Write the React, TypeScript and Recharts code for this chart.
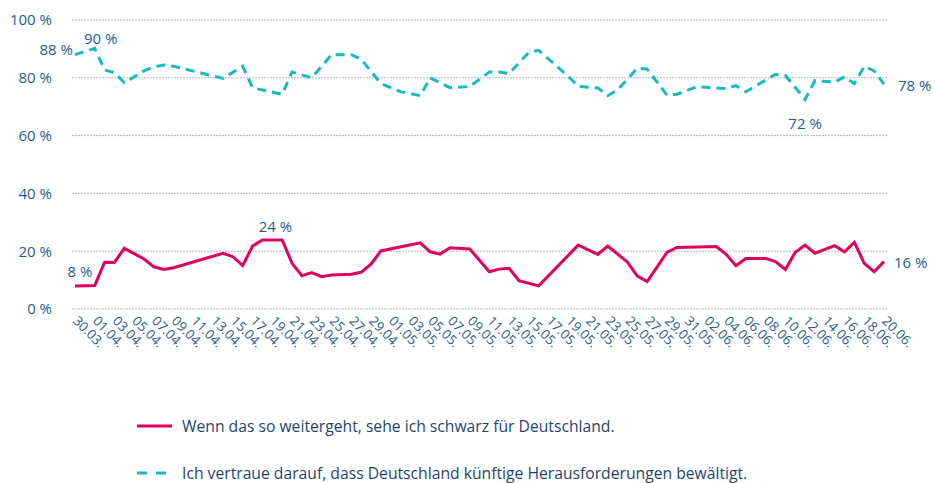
import React from "react";
import {
  LineChart,
  CartesianGrid,
  XAxis,
  YAxis,
  Legend,
  Line,
} from "recharts";

// survey day index (0 = 30.03.) and share in %
const schwarz: [number, number][] = [
  [0, 8], [2, 8.1], [3, 16.2], [4, 16.1], [5, 21], [7, 17.3], [8, 14.6],
  [9, 13.7], [10, 14.3], [15, 19.3], [16, 18.1], [17, 15], [18, 21.8],
  [19, 23.9], [21, 23.9], [22, 15.8], [23, 11.5], [24, 12.6], [25, 11.2],
  [26, 11.8], [28, 12], [29, 12.7], [30, 15.5], [31, 20.1], [35, 22.9],
  [36, 19.8], [37, 19], [38, 21.2], [40, 20.8], [42, 12.9], [43, 13.8],
  [44, 14.1], [45, 9.8], [47, 8], [51, 22.1], [53, 18.9], [54, 21.8],
  [56, 16.2], [57, 11.4], [58, 9.5], [60, 19.6], [61, 21.3], [65, 21.6],
  [66, 18.9], [67, 15], [68, 17.5], [70, 17.5], [71, 16.4], [72, 13.7],
  [73, 19.6], [74, 22.1], [75, 19.3], [77, 21.9], [78, 19.8], [79, 23.1],
  [80, 15.8], [81, 12.9], [82, 16.4],
];

const vertrauen: [number, number][] = [
  [0, 88], [2, 90.2], [3, 82.7], [4, 81.8], [5, 78.3], [7, 82.4], [8, 83.8],
  [9, 84.4], [10, 84], [15, 79.8], [17, 84], [18, 76.5], [21, 74.3],
  [22, 82], [24, 80], [26, 88], [28, 88], [29, 86.5], [31, 78], [33, 75.2],
  [35, 73.8], [36, 80], [38, 76.6], [40, 77], [42, 82], [43, 82],
  [44, 81.5], [46, 88.8], [47, 89.5], [50, 80.5], [51, 77], [53, 76.5],
  [54, 73.8], [55, 75.8], [57, 83.3], [58, 83], [60, 74], [61, 74.3],
  [63, 76.9], [65, 76.5], [66, 76.3], [67, 77.3], [68, 75.2], [71, 81.2],
  [72, 80.8], [74, 72.5], [75, 79], [77, 78.5], [78, 80.3], [79, 78],
  [80, 84], [81, 82.4], [82, 77.8],
];

const yTicks = [0, 20, 40, 60, 80, 100];

const labelsSchwarz = [
  { day: 0, text: "8 %" },
  { day: 19, text: "24 %" },
  { day: 82, text: "16 %" },
];
const labelsVertrauen = [
  { day: 0, text: "88 %" },
  { day: 2, text: "90 %" },
  { day: 74, text: "72 %" },
  { day: 82, text: "78 %" },
];

const legendItems = [
  { key: "schwarz", text: "Wenn das so weitergeht, sehe ich schwarz für Deutschland." },
  { key: "vertrauen", text: "Ich vertraue darauf, dass Deutschland künftige Herausforderungen bewältigt." },
];

const PINK = "#e0005e";
const TEAL = "#15bac3";
const BLUE = "#1f5b94";
const FONT = "'Open Sans', sans-serif";

// 30.03. .. 20.06.
const buildDates = () => {
  const months = [
    { m: 3, len: 31 },
    { m: 4, len: 30 },
    { m: 5, len: 31 },
    { m: 6, len: 30 },
  ];
  const out: string[] = [];
  let mi = 0;
  let d = 30;
  while (out.length < 83) {
    const pad = (n: number) => (n < 10 ? "0" + n : "" + n);
    out.push(pad(d) + "." + pad(months[mi].m) + ".");
    d++;
    if (d > months[mi].len) {
      d = 1;
      mi++;
    }
  }
  return out;
};

const dates = buildDates();

const data = dates.map((date, i) => {
  const s = schwarz.find((p) => p[0] === i);
  const v = vertrauen.find((p) => p[0] === i);
  return {
    date,
    schwarz: s ? s[1] : null,
    vertrauen: v ? v[1] : null,
  };
});

// label placement per annotated point
const offsets: Record<string, { dx: number; dy: number; anchor: string }> = {
  "schwarz-0": { dx: 5, dy: -9, anchor: "middle" },
  "schwarz-19": { dx: 13, dy: -8, anchor: "middle" },
  "schwarz-82": { dx: 10, dy: 6, anchor: "start" },
  "vertrauen-0": { dx: -2, dy: 0, anchor: "end" },
  "vertrauen-2": { dx: 6, dy: -4, anchor: "middle" },
  "vertrauen-74": { dx: 0, dy: 30, anchor: "middle" },
  "vertrauen-82": { dx: 14, dy: 7, anchor: "start" },
};

const makeLabel = (series: string, list: { day: number; text: string }[]) => (props: any) => {
  const item = list.find((l) => l.day === props.index);
  if (!item || props.x == null || props.y == null) return null;
  const o = offsets[series + "-" + item.day];
  return (
    <text
      key={series + item.day}
      x={props.x + o.dx}
      y={props.y + o.dy}
      textAnchor={o.anchor as any}
      fill={BLUE}
      fontSize={15}
      fontFamily={FONT}
    >
      {item.text}
    </text>
  );
};

const DateTick = (props: any) => {
  const { x, y, payload } = props;
  return (
    <text
      x={x}
      y={y}
      transform={`rotate(45, ${x}, ${y})`}
      dy={4}
      textAnchor="start"
      fill={BLUE}
      fontSize={13.3}
      fontFamily={FONT}
    >
      {payload.value}
    </text>
  );
};

const LegendBox = () => (
  <div style={{ fontFamily: FONT, fontSize: 15.7, color: "#1f4470" }}>
    {legendItems.map((item, i) => (
      <div key={item.key} style={{ display: "flex", alignItems: "center", height: 47 }}>
        <svg width={46} height={10} style={{ marginRight: 6 }}>
          <line
            x1={7}
            x2={42}
            y1={5}
            y2={5}
            stroke={i === 0 ? PINK : TEAL}
            strokeWidth={3}
            strokeDasharray={i === 0 ? undefined : "10 9"}
          />
        </svg>
        <span>{item.text}</span>
      </div>
    ))}
  </div>
);

const App = () => {
  return (
    <div style={{ position: "absolute", left: 0, top: 0 }}>
      <LineChart
        width={935}
        height={483}
        data={data}
        margin={{ top: 20, right: 47, left: 10, bottom: 114 }}
      >
        <CartesianGrid
          vertical={false}
          stroke="#b5b5b5"
          strokeDasharray="2 1"
        />
        <XAxis
          dataKey="date"
          scale="point"
          padding={{ left: 3, right: 4 }}
          interval={1}
          axisLine={false}
          tickLine={false}
          tickSize={0}
          tickMargin={10}
          height={60}
          tick={<DateTick />}
        />
        <YAxis
          width={62}
          domain={[0, 100]}
          ticks={yTicks}
          axisLine={false}
          tickLine={false}
          tickSize={0}
          tickMargin={20}
          tickFormatter={(v: number) => v + " %"}
          tick={{ fill: BLUE, fontSize: 15, fontFamily: FONT }}
        />
        <Legend
          layout="horizontal"
          verticalAlign="middle"
          align="center"
          wrapperStyle={{ left: 130, top: 402, width: 760 }}
          content={<LegendBox />}
        />
        <Line
          type="linear"
          dataKey="vertrauen"
          stroke={TEAL}
          strokeWidth={3}
          strokeDasharray="9 6"
          dot={false}
          connectNulls
          isAnimationActive={false}
          label={makeLabel("vertrauen", labelsVertrauen)}
        />
        <Line
          type="linear"
          dataKey="schwarz"
          stroke={PINK}
          strokeWidth={3}
          dot={false}
          connectNulls
          isAnimationActive={false}
          label={makeLabel("schwarz", labelsSchwarz)}
        />
      </LineChart>
    </div>
  );
};

export default App;
